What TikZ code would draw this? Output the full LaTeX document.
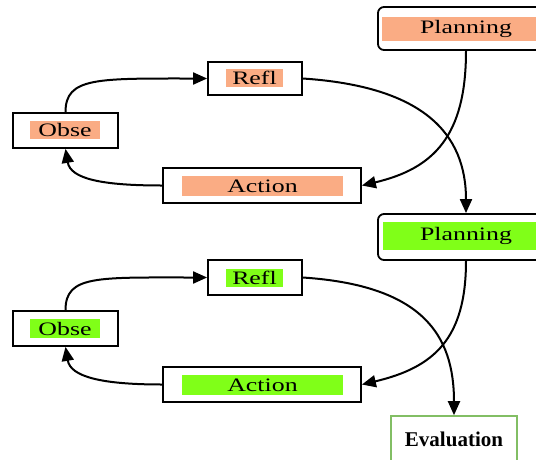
\documentclass[tikz,border=0pt]{standalone}
\usepackage{fontspec}
\usepackage{graphicx}
\setmainfont{Liberation Serif}
\usetikzlibrary{arrows.meta}
\definecolor{salmon}{RGB}{250,172,132}
\definecolor{lime}{RGB}{128,255,24}
\definecolor{evalgreen}{RGB}{130,190,100}
\newcommand{\wide}[1]{\scalebox{1.36}[1]{#1}}
\tikzset{
  boxnode/.style={draw=black, line width=1.8pt, inner sep=0pt, minimum width=#1},
  boxnode/.default={94pt},
  strip/.style={inner sep=0pt, font=\fontsize{19}{20}\selectfont},
  conn/.style={line width=2pt, -{Triangle[length=14pt,width=12pt]}},
}
\begin{document}
\begin{tikzpicture}[x=1pt,y=1pt]
\useasboundingbox (0,0) rectangle (536,-459);
\clip (0,0) rectangle (536,-459);
% ---------- top cycle ----------
\node[boxnode=176pt, minimum height=43pt, rounded corners=6pt] (plan1) at (466,-28.5) {};
\node[strip, fill=salmon, minimum width=168pt, minimum height=24pt] (plan1t) at (466,-29) {\wide{Planning}};
\node[boxnode=94pt, minimum height=33pt] (refl1) at (255,-78.5) {};
\node[strip, fill=salmon, minimum width=57pt, minimum height=18pt] (refl1t) at (254.5,-78) {\wide{Refl}};
\node[boxnode=105pt, minimum height=35pt] (obse1) at (65.5,-130.5) {};
\node[strip, fill=salmon, minimum width=70pt, minimum height=18pt] (obse1t) at (65,-130) {\wide{Obse}};
\node[boxnode=198pt, minimum height=35pt] (act1) at (262,-185.5) {};
\node[strip, fill=salmon, minimum width=161pt, minimum height=20pt] (act1t) at (262.5,-186) {\wide{Action}};
% ---------- bottom cycle ----------
\node[boxnode=176pt, minimum height=46pt, rounded corners=6pt] (plan2) at (466,-237) {};
\node[strip, fill=lime, minimum width=166pt, minimum height=28pt] (plan2t) at (466,-236) {\wide{Planning}};
\node[boxnode=94pt, minimum height=35pt] (refl2) at (255,-277.5) {};
\node[strip, fill=lime, minimum width=57pt, minimum height=18pt] (refl2t) at (254.5,-278) {\wide{Refl}};
\node[boxnode=105pt, minimum height=35pt] (obse2) at (65.5,-328.5) {};
\node[strip, fill=lime, minimum width=70pt, minimum height=19pt] (obse2t) at (65,-328.5) {\wide{Obse}};
\node[boxnode=198pt, minimum height=35pt] (act2) at (262,-384.5) {};
\node[strip, fill=lime, minimum width=161pt, minimum height=20pt] (act2t) at (262.5,-385) {\wide{Action}};
% ---------- evaluation ----------
\node[draw=evalgreen, line width=1.6pt, minimum width=126pt, minimum height=46pt, inner sep=0pt,
      font=\fontsize{21}{24}\selectfont\bfseries] (eval) at (454,-439) {Evaluation};
% ---------- connectors top ----------
\draw[conn] (obse1.north) .. controls +(0,35) and +(-110,0) .. (refl1.west);
\draw[conn] (act1.west) .. controls +(-60,0) and +(5,-30) .. (obse1.south);
\draw[conn] (refl1.east) .. controls +(120,-8) and +(0,80) .. (plan2.north);
\draw[conn] (plan1.south) .. controls +(0,-85) and +(72,17) .. (act1.east);
% ---------- connectors bottom ----------
\draw[conn] (obse2.north) .. controls +(0,35) and +(-110,0) .. (refl2.west);
\draw[conn] (act2.west) .. controls +(-60,0) and +(5,-30) .. (obse2.south);
\draw[conn] (refl2.east) .. controls +(120,-8) and +(0,80) .. (eval.north);
\draw[conn] (plan2.south) .. controls +(0,-78) and +(72,17) .. (act2.east);
\end{tikzpicture}
\end{document}
